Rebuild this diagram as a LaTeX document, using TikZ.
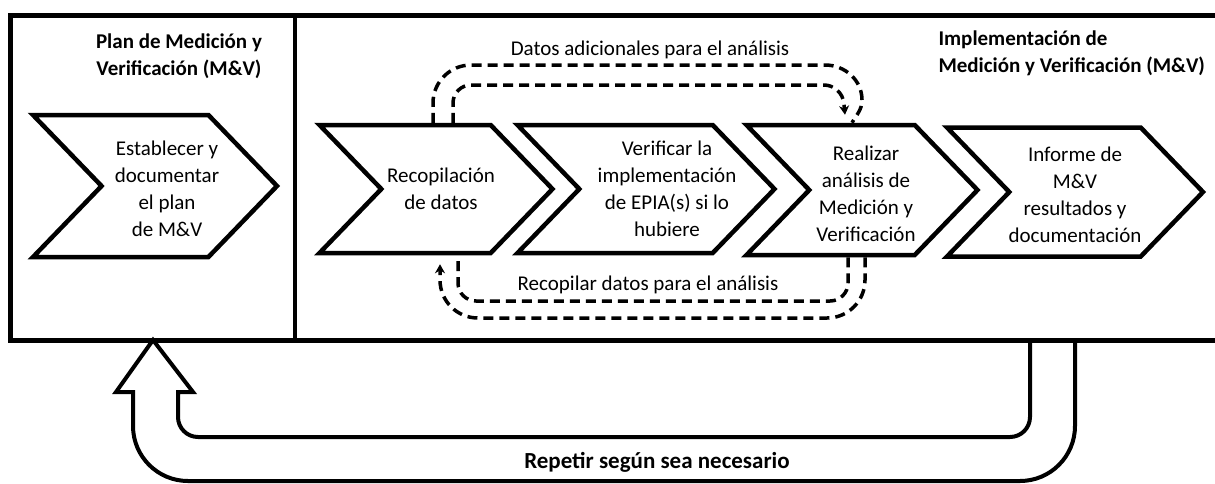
\documentclass[tikz,border=0pt]{standalone}
\usepackage{fontspec}
\setmainfont{Carlito}
\usetikzlibrary{positioning,shapes.symbols,arrows.meta}

\tikzset{
  etapa/.style={signal,signal from=west,signal to=east,
    signal pointer angle=92,draw,line width=4.5pt,inner sep=0pt},
  texto/.style={align=center,font=\fontsize{21}{27}\selectfont},
  titulo/.style={font=\bfseries\fontsize{21}{27}\selectfont},
  bucle/.style={line width=3.5pt,dash pattern=on 10pt off 6pt},
  punta/.style={-{Stealth[length=9pt,width=10pt]}},
}

\begin{document}
\begin{tikzpicture}[x=1pt,y=-1pt]
  \clip (0,0) rectangle (1215,483);

  % marcos
  \draw[line width=5pt] (10,15) rectangle (1235,340);
  \draw[line width=4pt] (295,15) -- (295,340);

  \node[titulo,align=center] (plan) at (179,56)
    {Plan de Medición y\\Verificación (M\&V)};
  \node[titulo,align=left,anchor=west] (impl) at (935,53)
    {Implementación de\\Medición y Verificación (M\&V)};

  % etapas
  \node[etapa,minimum width=244pt,minimum height=142pt] (establecer) at (155,186) {};
  \node[etapa,minimum width=233pt,minimum height=128pt] (recopilacion) at (436,189) {};
  \node[etapa,minimum width=257pt,minimum height=128pt] (verificar) at (646,189) {};
  \node[etapa,minimum width=231pt,minimum height=130pt] (realizar) at (862,190) {};
  \node[etapa,minimum width=256pt,minimum height=129pt] (informe) at (1075,192) {};

  \node[texto] (t1) at ([xshift=12pt,yshift=-3pt]establecer.center)
    {Establecer y\\documentar\\el plan\\de M\&V};
  \node[texto] (t2) at ([xshift=5pt]recopilacion.center)
    {Recopilación\\de datos};
  \node[texto] (t3) at ([xshift=21pt]verificar.center)
    {Verificar la\\implementación\\de EPIA(s) si lo\\hubiere};
  \node[texto] (t4) at ([xshift=4pt,yshift=-4pt]realizar.center)
    {Realizar\\análisis de\\Medición y\\Verificación};
  \node[texto] (t5) at ([yshift=-3pt]informe.center)
    {Informe de\\M\&V\\resultados y\\documentación};

  % bucles de datos
  \draw[bucle] ([xshift=-3pt]recopilacion.north) [rounded corners=38pt]
    -- (433,65) [sharp corners] -- (825,65) to[out=0,in=90] (862,100)
    to[out=-90,in=60] ([xshift=-10pt]realizar.north);
  \draw[bucle,punta] ([xshift=17pt]recopilacion.north) [rounded corners=18pt]
    -- (453,85) -- (842,85) [sharp corners] -- ([xshift=-17pt,yshift=8pt]realizar.north);
  \node[texto] (datos) at (650,50) {Datos adicionales para el análisis};

  \draw[bucle,punta] ([xshift=3pt]realizar.south) [rounded corners=38pt]
    -- (865,318) -- (440,318) [sharp corners] -- ([xshift=4pt,yshift=-9pt]recopilacion.south);
  \draw[bucle] ([xshift=-14pt]realizar.south) [rounded corners=18pt]
    -- (848,301) -- (458,301) [sharp corners] -- ([xshift=22pt]recopilacion.south);
  \node[texto] (recopilar) at (648,285) {Recopilar datos para el análisis};

  % repetir
  \draw[line width=4pt] (1030,340) [rounded corners=20pt] -- (1030,437)
    -- (178,437) [sharp corners] -- (178,392) -- (193,392) -- (153,340)
    -- (116,392) -- (133,392) [rounded corners=55pt] -- (133,481)
    -- (1075,481) [sharp corners] -- (1075,340);
  \node[titulo,font=\bfseries\fontsize{23}{27}\selectfont] (repetir) at (657,462)
    {Repetir según sea necesario};
\end{tikzpicture}
\end{document}
